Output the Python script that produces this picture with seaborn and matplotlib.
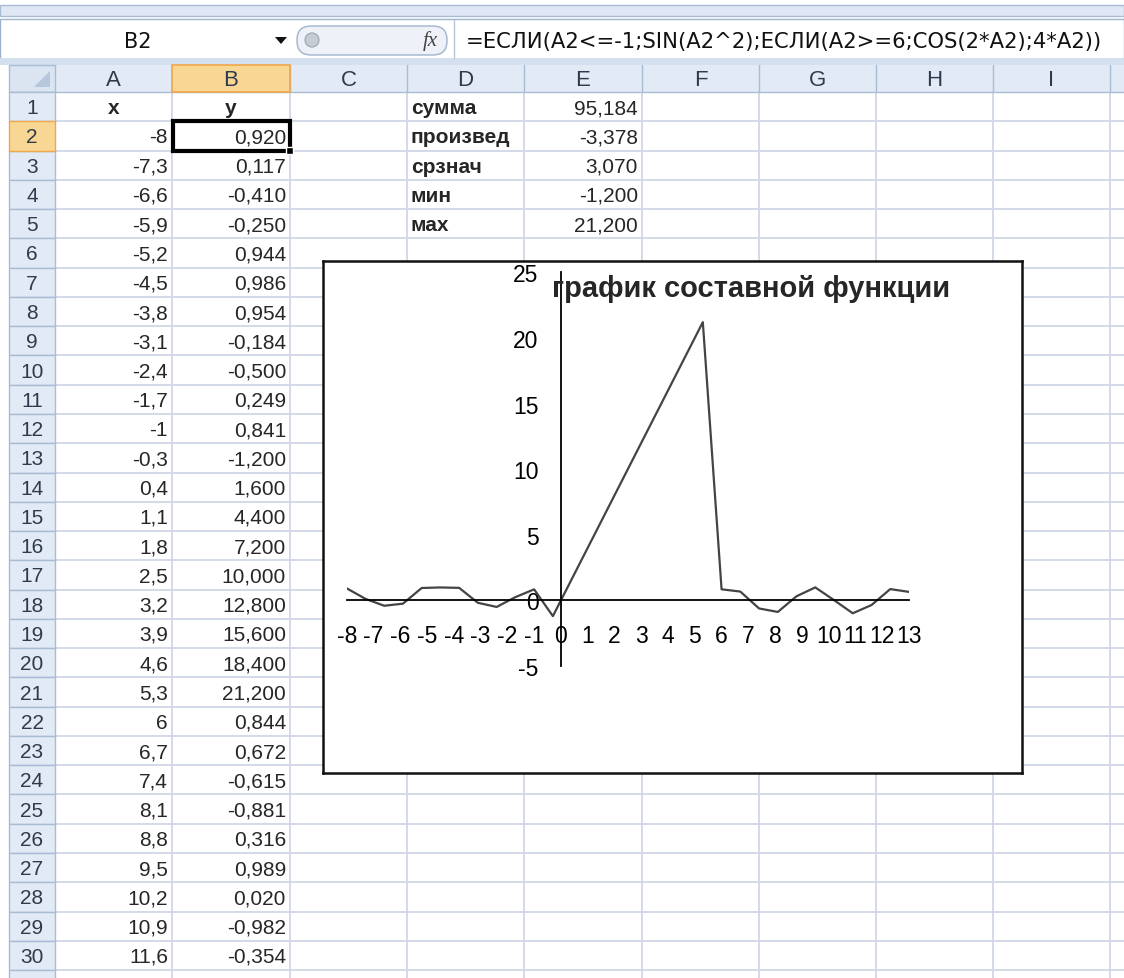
import matplotlib
matplotlib.use('Agg')
import matplotlib.pyplot as plt
import matplotlib.patches as mpatches
import numpy as np
import seaborn as sb

sb.set_style('white')
plt.rcParams['font.family'] = ['Liberation Sans', 'DejaVu Sans']
plt.rcParams['axes.unicode_minus'] = False

# данные со листа
x_vals = [-8, -7.3, -6.6, -5.9, -5.2, -4.5, -3.8, -3.1, -2.4, -1.7, -1, -0.3,
          0.4, 1.1, 1.8, 2.5, 3.2, 3.9, 4.6, 5.3, 6, 6.7, 7.4, 8.1, 8.8, 9.5,
          10.2, 10.9, 11.6, 12.3, 13]
y_vals = [0.920, 0.117, -0.410, -0.250, 0.944, 0.986, 0.954, -0.184, -0.500,
          0.249, 0.841, -1.200, 1.600, 4.400, 7.200, 10.000, 12.800, 15.600,
          18.400, 21.200, 0.844, 0.672, -0.615, -0.881, 0.316, 0.989, 0.020,
          -0.982, -0.354, 0.861, 0.647]
stat_labels = ['сумма', 'произвед', 'срзнач', 'мин', 'мах']
stat_values = ['95,184', '-3,378', '3,070', '-1,200', '21,200']
col_letters = ['A', 'B', 'C', 'D', 'E', 'F', 'G', 'H', 'I']
x_ticks = list(range(-8, 14))
y_ticks = [-5, 0, 5, 10, 15, 20, 25]
formula = '=ЕСЛИ(A2<=-1;SIN(A2^2);ЕСЛИ(A2>=6;COS(2*A2);4*A2))'
title = 'график составной функции'


def fmt(v, nd):
    s = f'{v:.{nd}f}' if nd else f'{v:g}'
    return s.replace('.', ',')


W, H = 1124, 979
fig = plt.figure(figsize=(W / 100, H / 100), dpi=100)
ui = fig.add_axes([0, 0, 1, 1])
ui.set_xlim(0, W)
ui.set_ylim(H, 0)
ui.axis('off')

grid_c = '#d0d7e5'
head_c = '#e2eaf5'
head_edge = '#a9bcd4'
sel_c = '#f8d795'
sel_edge = '#f0a64a'
txt_head = '#2f3b4c'
fs = 15

# верхняя полоса и строка формул
ui.add_patch(mpatches.Rectangle((0, 6), W, 11, fc='#dfe8f4', ec='#a9bcd4', lw=1))
ui.add_patch(mpatches.Rectangle((0, 20), W, 40, fc='white', ec='#9db3cc', lw=1))
ui.add_patch(mpatches.Rectangle((0, 59), W, 7, fc='#d4e0ef', ec='none'))
ui.text(138, 42, 'B2', ha='center', va='center', fontsize=15,
        family='DejaVu Sans', color='#111')
ui.add_patch(mpatches.Polygon([[275, 38], [287, 38], [281, 45]], closed=True,
                              fc='#111', ec='none'))
ui.add_patch(mpatches.FancyBboxPatch((297, 27), 150, 29,
                                     boxstyle='round,pad=0,rounding_size=14',
                                     fc='#eef2f8', ec='#9fb3cc', lw=1))
ui.add_patch(mpatches.Circle((312, 41), 7, fc='#c6ccd5', ec='#9aa3ae', lw=0.8))
ui.text(430, 41, 'fx', ha='center', va='center', fontsize=15, style='italic',
        family='Liberation Serif', color='#444')
ui.plot([454, 454], [21, 59], color='#b5c5d9', lw=1)
ui.text(466, 42, formula, ha='left', va='center', fontsize=15.2,
        family='DejaVu Sans', color='#111')

# заголовки столбцов
col_edges = [55, 172, 290, 407, 524, 642, 759, 876, 993, 1110, 1124]
row_top = 93
row_h = 29.27
head_top = 66
ui.add_patch(mpatches.Rectangle((9, head_top), W - 9, row_top - head_top,
                                fc=head_c, ec='none'))
ui.add_patch(mpatches.Rectangle((9, head_top), 46, row_top - head_top,
                                fc='#dbe5f2', ec=head_edge, lw=1))
ui.add_patch(mpatches.Polygon([[50, 72], [50, 88], [34, 88]], closed=True,
                              fc='#b6c6dc', ec='none'))
for i, c in enumerate(col_letters):
    x0, x1 = col_edges[i], col_edges[i + 1]
    if c == 'B':
        ui.add_patch(mpatches.Rectangle((x0, head_top), x1 - x0,
                                        row_top - head_top, fc=sel_c,
                                        ec=sel_edge, lw=1.2, zorder=3))
    ui.text((x0 + x1) / 2, (head_top + row_top) / 2 + 1, c, ha='center',
            va='center', fontsize=16, color=txt_head, zorder=4)
for x in col_edges[1:-1]:
    ui.plot([x, x], [head_top, row_top], color=head_edge, lw=1, zorder=2)
ui.plot([9, W], [row_top, row_top], color=head_edge, lw=1, zorder=2)

# строки
n_rows = 31
for r in range(n_rows):
    y0 = row_top + r * row_h
    y1 = y0 + row_h
    fc = sel_c if r == 1 else head_c
    ui.add_patch(mpatches.Rectangle((9, y0), 46, row_h, fc=fc,
                                    ec=sel_edge if r == 1 else head_edge,
                                    lw=1, zorder=2 if r != 1 else 3))
    if y1 < H:
        ui.text(32, (y0 + y1) / 2 + 1, str(r + 1), ha='center', va='center',
                fontsize=fs, color=txt_head, zorder=4)
    ui.plot([55, W], [y1, y1], color=grid_c, lw=1.3, zorder=1)
for x in col_edges[1:-1]:
    ui.plot([x, x], [row_top, H], color=grid_c, lw=1.3, zorder=1)

# значения ячеек
def cy(r):
    return row_top + (r - 0.5) * row_h + 1

ui.text(114, cy(1), 'x', ha='center', va='center', fontsize=fs,
        fontweight='bold')
ui.text(231, cy(1), 'y', ha='center', va='center', fontsize=fs,
        fontweight='bold')
for i in range(29):
    ui.text(168, cy(i + 2), fmt(x_vals[i], 0), ha='right', va='center',
            fontsize=fs)
    ui.text(286, cy(i + 2), fmt(y_vals[i], 3), ha='right', va='center',
            fontsize=fs)
for i, (lab, val) in enumerate(zip(stat_labels, stat_values)):
    ui.text(411, cy(i + 1), lab, ha='left', va='center', fontsize=fs,
            fontweight='bold')
    ui.text(638, cy(i + 1), val, ha='right', va='center', fontsize=fs)

# активная ячейка B2
ui.add_patch(mpatches.Rectangle((173, row_top + row_h), 117, row_h, fc='none',
                                ec='black', lw=3, zorder=5))
ui.add_patch(mpatches.Rectangle((286, row_top + 2 * row_h - 4), 7, 7,
                                fc='black', ec='white', lw=1, zorder=6))

# область диаграммы
cl, ct, cr, cb = 323, 262, 1022, 774
box = fig.add_axes([cl / W, 1 - cb / H, (cr - cl) / W, (cb - ct) / H])
box.set_xticks([])
box.set_yticks([])
box.set_facecolor('white')
for s in box.spines.values():
    s.set_color('#111')
    s.set_linewidth(1.8)

pl, pt, pr, pb = 346.7, 273.3, 909, 667
ax = fig.add_axes([pl / W, 1 - pb / H, (pr - pl) / W, (pb - pt) / H])
ax.patch.set_alpha(0)
sb.lineplot(x=x_vals, y=y_vals, ax=ax, color='#444444', linewidth=1.6,
            sort=False, estimator=None)
ax.set_xlim(-8, 13)
ax.set_ylim(-5, 25)
ax.spines['left'].set_position(('data', 0))
ax.spines['bottom'].set_position(('data', 0))
ax.spines['top'].set_visible(False)
ax.spines['right'].set_visible(False)
for s in ['left', 'bottom']:
    ax.spines[s].set_color('black')
    ax.spines[s].set_linewidth(1.3)
ax.set_xticks(x_ticks)
ax.set_yticks(y_ticks)
ax.tick_params(axis='both', direction='out', length=6, width=1.3,
               labelsize=16.5, colors='black')
ax.tick_params(axis='x', pad=11)
ax.tick_params(axis='y', pad=10)
ax.set_xlabel('')
ax.set_ylabel('')
fig.text(751 / W, 1 - 289 / H, title, ha='center', va='center',
         fontsize=21, fontweight='bold')

fig.savefig('out.png', dpi=100)
